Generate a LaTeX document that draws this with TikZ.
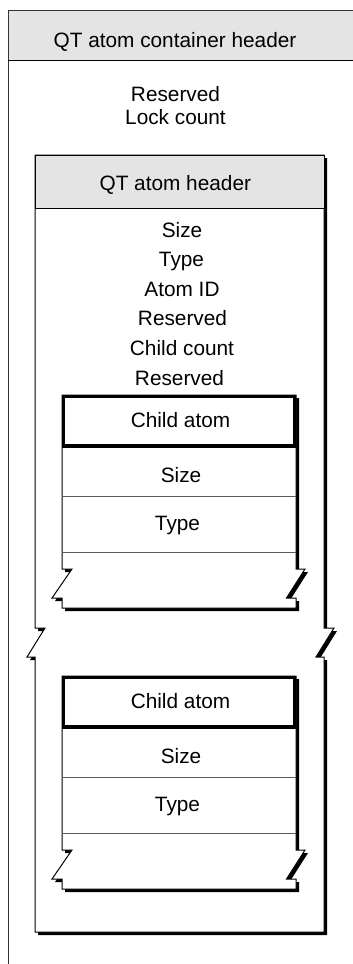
\documentclass[tikz,border=0pt]{standalone}
\usepackage{fontspec}
\setmainfont{Liberation Sans}
\definecolor{hdrgray}{RGB}{228,228,228}
\definecolor{rulegray}{RGB}{90,90,90}
\begin{document}
\begin{tikzpicture}[x=1pt,y=-1pt,
  lbl/.style={anchor=base,inner sep=0pt,font=\fontsize{20.8}{24}\selectfont},
  outline/.style={line width=1pt,draw=black},
  shadowfill/.style={fill=black,shift={(3,3)}},
  sepline/.style={line width=0.8pt,draw=rulegray},
  childhead/.style={line width=3.2pt,draw=black}]
\useasboundingbox (0,0) rectangle (353,964);
% ---- container ----
\fill[hdrgray] (8,10) rectangle (353,60);
\draw[line width=1pt,draw=black!80] (353,10) -- (8,10) -- (8,964);
\draw[line width=1pt] (8,60) -- (353,60);
\node[lbl] (hdr) at (175,47.5) {QT atom container header};
\node[lbl] (res1) at (175.5,101) {Reserved};
\node[lbl] (lock) at (175.5,124) {Lock count};
% ---- QT atom ----
\fill[shadowfill] (35,155) -- (324,155) -- (324,628) -- (334,628) -- (316,657) -- (324,657) -- (324,932) -- (35,932) -- (35,657) -- (27,657) -- (45,628) -- (35,628) -- cycle;
\filldraw[outline,fill=white] (35,155) -- (324,155) -- (324,628) -- (334,628) -- (316,657) -- (324,657) -- (324,932) -- (35,932) -- (35,657) -- (27,657) -- (45,628) -- (35,628) -- cycle;
\filldraw[outline,fill=hdrgray] (35,155) rectangle (324,208);
\node[lbl] (qthdr) at (175.3,190.5) {QT atom header};
\node[lbl] (qsize) at (182,237.7) {Size};
\node[lbl] (qtype) at (181.5,266.7) {Type};
\node[lbl] (qid) at (182,296.5) {Atom ID};
\node[lbl] (qres) at (182.5,325.5) {Reserved};
\node[lbl] (qcc) at (182,355) {Child count};
\node[lbl] (qres2) at (179.5,385) {Reserved};
% ---- child atoms ----
\foreach \dy/\nm in {0/c1,281/c2}{
\begin{scope}[yshift=-\dy pt]
\fill[shadowfill] (62,395) -- (296,395) -- (296,569) -- (305,569) -- (286.5,598) -- (296,598) -- (296,608) -- (62,608) -- (62,598) -- (52,598) -- (72,569) -- (62,569) -- cycle;
\filldraw[outline,fill=white] (62,395) -- (296,395) -- (296,569) -- (305,569) -- (286.5,598) -- (296,598) -- (296,608) -- (62,608) -- (62,598) -- (52,598) -- (72,569) -- (62,569) -- cycle;
\draw[sepline] (62,496) -- (296,496);
\draw[sepline] (62,552) -- (296,552);
\draw[childhead] (63.6,396.6) rectangle (294.4,446);
\node[lbl] (\nm hdr) at (180.5,427.7) {Child atom};
\node[lbl] (\nm size) at (181,482.3) {Size};
\node[lbl] (\nm type) at (177.5,530.7) {Type};
\end{scope}}
\end{tikzpicture}
\end{document}
